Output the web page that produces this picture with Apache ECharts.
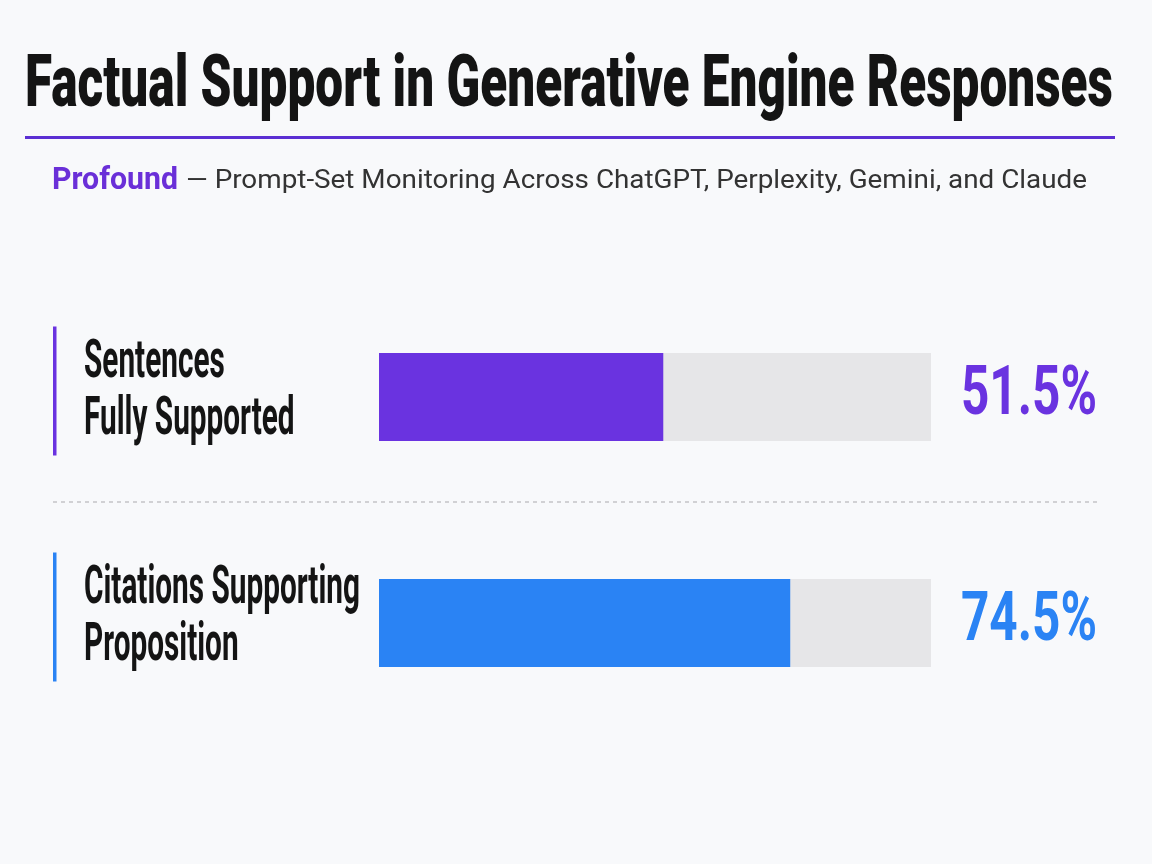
<!DOCTYPE html>
<html>
<head>
<meta charset="utf-8">
<script src="https://cdn.jsdelivr.net/npm/echarts@6/dist/echarts.min.js"></script>
<style>
  html, body { margin: 0; padding: 0; background: #f8f9fb; }
  #chart { width: 1152px; height: 864px; }
</style>
</head>
<body>
<div id="chart"></div>
<script>
// ---- data ----
const categories = ['Sentences\nFully Supported', 'Citations Supporting\nProposition'];
const values = [51.5, 74.5];
const trackMax = 100;
const barColors = ['#6a33e0', '#2a83f4'];
const titleText = 'Factual Support in Generative Engine Responses';
const brandText = 'Profound';
const subtitleText = '\u2014 Prompt-Set Monitoring Across ChatGPT, Perplexity, Gemini, and Claude';

const HEAVY = 'Roboto, "Noto Sans", sans-serif';
const REG = 'Roboto, "Noto Sans", sans-serif';

const mctx = document.createElement('canvas').getContext('2d');
function measure(text, font) {
  mctx.font = font;
  return Math.max.apply(null, text.split('\n').map(t => mctx.measureText(t).width));
}

const chart = echarts.init(document.getElementById('chart'), null, { renderer: 'canvas' });

const option = {
  backgroundColor: '#f8f9fb',
  animation: false,
  grid: { left: 379, right: 221, top: 284, bottom: 128 },
  xAxis: { type: 'value', min: 0, max: trackMax, show: false },
  yAxis: {
    type: 'category', data: categories, inverse: true,
    axisLine: { show: false }, axisTick: { show: false }, axisLabel: { show: false }, splitLine: { show: false }
  },
  series: [
    {
      name: 'track', type: 'bar', barWidth: 88, silent: true,
      itemStyle: { color: '#e6e6e8' },
      data: categories.map(() => trackMax)
    },
    {
      name: 'value', type: 'bar', barWidth: 88, barGap: '-100%',
      data: values.map((v, i) => ({ value: v, itemStyle: { color: barColors[i] } }))
    }
  ]
};
chart.setOption(option);

// ---- text and decorations positioned from the axes ----
const cy = categories.map((c, i) => chart.convertToPixel({ yAxisIndex: 0 }, i));
const trackEnd = chart.convertToPixel({ xAxisIndex: 0 }, trackMax);
const graphics = [];

function txt(x, y, text, size, weight, family, fill, scale, lineHeight) {
  return {
    type: 'text', x: x, y: y, scaleX: scale, silent: true,
    style: {
      text: text, fontSize: size, fontWeight: weight, fontFamily: family, fill: fill,
      lineHeight: lineHeight || Math.round(size * 1.2),
      align: 'left', verticalAlign: 'middle', textAlign: 'left', textVerticalAlign: 'middle'
    }
  };
}
function fit(text, size, weight, family, target) {
  return target / measure(text, weight + ' ' + size + 'px ' + family);
}

graphics.push(txt(25, 88, titleText, 72, 900, HEAVY, '#141414', fit(titleText, 72, 900, HEAVY, 1088)));
graphics.push({ type: 'rect', silent: true, shape: { x: 25, y: 136, width: 1090, height: 3 }, style: { fill: '#5b2fd3' } });
graphics.push(txt(52, 181, brandText, 32, 'bold', HEAVY, '#6a2fd8', fit(brandText, 32, 'bold', HEAVY, 126)));
graphics.push(txt(186, 182, subtitleText, 25, 'normal', REG, '#333333', fit(subtitleText, 25, 'normal', REG, 901)));

// category labels with a shared condensed scale
const catScale = fit('Citations Supporting', 53, 'bold', HEAVY, 276);
categories.forEach((c, i) => {
  graphics.push(txt(84, cy[i] - 5, c, 53, 'bold', HEAVY, '#141414', catScale, 57));
  graphics.push({
    type: 'rect', silent: true,
    shape: { x: 53, y: cy[i] - 6 - 64.5, width: 3.5, height: 129 },
    style: { fill: barColors[i] }
  });
  const vt = values[i].toFixed(1) + '%';
  graphics.push(txt(trackEnd + 30, cy[i], vt, 68, 'bold', HEAVY, barColors[i], fit('51.5%', 68, 'bold', HEAVY, 136)));
});

const sepY = (cy[0] + cy[1]) / 2 - 8;
graphics.push({
  type: 'line', silent: true,
  shape: { x1: 53, y1: sepY, x2: 1101, y2: sepY },
  style: { stroke: '#c4c4c8', lineWidth: 1.5, lineDash: [4, 4] }
});

chart.setOption({ graphic: graphics });
</script>
</body>
</html>
